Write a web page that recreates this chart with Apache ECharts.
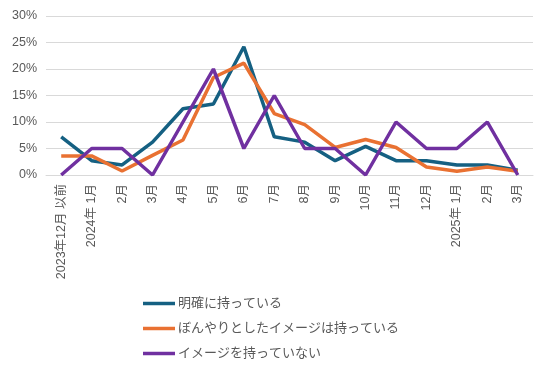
<!DOCTYPE html>
<html><head><meta charset="utf-8">
<script src="https://cdn.jsdelivr.net/npm/echarts@6/dist/echarts.min.js"></script>
<style>html,body{margin:0;padding:0;background:#fff}#c{width:550px;height:373px}</style>
</head><body><div id="c"></div>
<script>
const categories = ["2023年12月 以前","2024年 1月","2月","3月","4月","5月","6月","7月","8月","9月","10月","11月","12月","2025年 1月","2月","3月"];
const seriesNames = ["明確に持っている","ぼんやりとしたイメージは持っている","イメージを持っていない"];
const clearValues = [7.2,2.7,1.9,6.2,12.5,13.4,24.2,7.2,6.2,2.7,5.4,2.7,2.7,1.9,1.9,0.9];
const vagueValues = [3.6,3.6,0.75,3.7,6.6,18.4,21.1,11.6,9.5,5.2,6.7,5.2,1.5,0.7,1.5,0.7];
const noneValues = [0,5,5,0,10,20,5,15,5,5,0,10,5,5,10,0];
const yTicks = [0,5,10,15,20,25,30];
const colors = ["#156082","#E97132","#7030A0"];

const font = "'Liberation Sans','Noto Sans CJK JP',sans-serif";
const chart = echarts.init(document.getElementById('c'), null, {renderer:'canvas'});
const mk = (name, data, color) => ({
  name, type:'line', data, symbol:'none', smooth:false,
  lineStyle:{width:3.5, color}, itemStyle:{color}, z: 2
});
chart.setOption({
  animation:false,
  textStyle:{fontFamily:font},
  grid:{left:46,right:17,top:16,bottom:198,containLabel:false},
  xAxis:{type:'category',data:categories,boundaryGap:true,
    axisLine:{show:true,lineStyle:{color:'#d9d9d9',width:1}},axisTick:{show:false},
    axisLabel:{rotate:90,color:'#595959',fontSize:12.5,margin:9,interval:0,fontFamily:font}},
  yAxis:{type:'value',min:yTicks[0],max:yTicks[yTicks.length-1],interval:5,
    axisLine:{show:false},axisTick:{show:false},
    splitLine:{lineStyle:{color:'#d9d9d9',width:1}},
    axisLabel:{formatter:v=>v+'%',color:'#595959',fontSize:12.5,margin:9,fontFamily:font}},
  legend:{orient:'vertical',left:138,top:292,itemWidth:32,itemHeight:14,itemGap:12,
    icon:'path://M0,0 L32,0 L32,3.5 L0,3.5 Z',
    textStyle:{color:'#595959',fontSize:13,fontFamily:font,padding:[0,0,0,-2]},
    data:seriesNames},
  series:[mk(seriesNames[0],clearValues,colors[0]),mk(seriesNames[1],vagueValues,colors[1]),mk(seriesNames[2],noneValues,colors[2])]
});
</script></body></html>
